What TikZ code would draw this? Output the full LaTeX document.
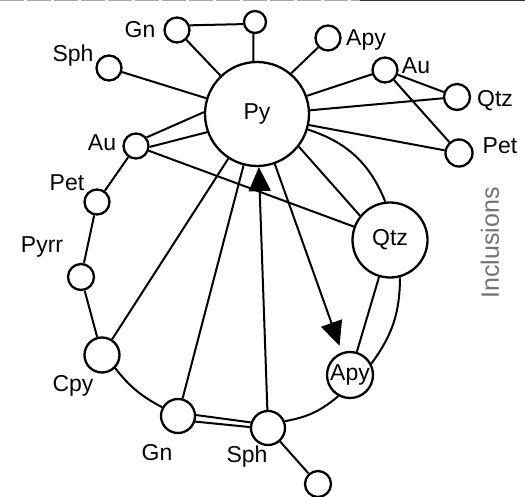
\documentclass[tikz,border=0pt]{standalone}
\usepackage{fontspec}
\setmainfont{Liberation Sans}
\usetikzlibrary{arrows.meta}
\begin{document}
\begin{tikzpicture}[x=1pt,y=-1pt,
  mineral/.style={circle,draw,line width=2.3pt,inner sep=0pt,minimum size=#1},
  lbl/.style={font=\fontsize{23}{23}\selectfont,inner sep=0pt},
  link/.style={line width=2pt},
  flow/.style={line width=2pt,-{Triangle[length=24pt,width=22pt]}}
]
\useasboundingbox (0,0) rectangle (525,497);

% scanned top edge
\draw[black!35,line width=1.5pt,dash pattern=on 24pt off 3pt] (0,0.75) -- (360,0.75);
\draw[black!80,line width=1.5pt] (360,0.75) -- (525,0.75);

% central mineral and the large phases
\node[mineral=104pt] (py)  at (257,114) {};
\node[mineral=75pt]  (qtz) at (390,240) {};
\node[mineral=46pt]  (apy) at (350,375) {};

% ring phases
\node[mineral=25pt] (aul)  at (136,146) {};
\node[mineral=25pt] (petl) at (97,202) {};
\node[mineral=26pt] (pyrr) at (81,277) {};
\node[mineral=35pt] (cpy)  at (102,355) {};
\node[mineral=34pt] (gnb)  at (178,416) {};
\node[mineral=34pt] (sphb) at (268,428) {};
\node[mineral=26pt] (bot)  at (318,484) {};

% inclusion phases
\node[mineral=25pt] (gnt)  at (177,30) {};
\node[mineral=22pt] (tn)   at (255,22) {};
\node[mineral=25pt] (spht) at (109,68) {};
\node[mineral=25pt] (apys) at (328,38) {};
\node[mineral=25pt] (aur)  at (385,70) {};
\node[mineral=26pt] (qtzs) at (457,97) {};
\node[mineral=27pt] (petr) at (459,153) {};

% labels
\node[lbl] (lpy)   at (py)  {Py};
\node[lbl] (lqtz)  at (qtz) {Qtz};
\node[lbl] (lapy)  at (apy) {Apy};
\node[lbl] (lgnt)  at (140,30)  {Gn};
\node[lbl] (lspht) at (73,56)   {Sph};
\node[lbl] (laul)  at (102,143) {Au};
\node[lbl] (lpetl) at (67,183)  {Pet};
\node[lbl] (lpyrr) at (42,247)  {Pyrr};
\node[lbl] (lcpy)  at (73,386)  {Cpy};
\node[lbl] (lgnb)  at (157,453) {Gn};
\node[lbl] (lsphb) at (247,457) {Sph};
\node[lbl] (lapys) at (366,40)  {Apy};
\node[lbl] (laur)  at (416,66)  {Au};
\node[lbl] (lqtzs) at (495,101) {Qtz};
\node[lbl] (lpetr) at (500,146) {Pet};
\node[rotate=90,text=black!55,font=\fontsize{25}{25}\selectfont,inner sep=0pt] (incl) at (490,243) {Inclusions};

% upper inclusions
\draw[link] (gnt.20) -- (tn.190);
\draw[link] (tn.262) -- (py.94);
\draw[link] (gnt) -- (py);
\draw[link] (spht) -- (py);
\draw[link] (py.50) -- (apys);
\draw[link] (py.20) -- (aur);
\draw[link] (py.4) -- (qtzs);
\draw[link] (py.-12) -- (petr);
\draw[link] (aur) -- (qtzs);
\draw[link] (aur) -- (petr);

% left side of the ring
\draw[link] (aul.39) -- (py.178);
\draw[link] (aul.-4) -- (py.200);
\draw[link] (aul) -- (qtz);
\draw[link] (aul) -- (petl);
\draw[link] (petl) -- (pyrr);
\draw[link] (pyrr) -- (cpy);
\draw[link] (cpy) -- (py);
\draw[link] (gnb) -- (py);
\draw[link] (cpy.-45) to[bend right=12] (gnb.151);

% lower side of the ring
\draw[link] (gnb.3) -- (sphb.162);
\draw[link] (gnb.-18) -- (sphb.177);
\draw[link] (sphb) -- (bot);
\draw[link] (sphb.22) to[bend right=15] (apy.241);

% right side of the ring
\draw[link] (qtz) -- (apy);
\draw[link] (qtz.-75) to[bend left=18] (apy.28);
\draw[link] (py.-38) -- (qtz.141);
\draw[link] (py.-17) to[bend left=25] (qtz.97);

% replacement arrows
\draw[flow,shorten >=7pt] (py) -- (apy);
\draw[flow] (sphb) -- (py);
\end{tikzpicture}
\end{document}
